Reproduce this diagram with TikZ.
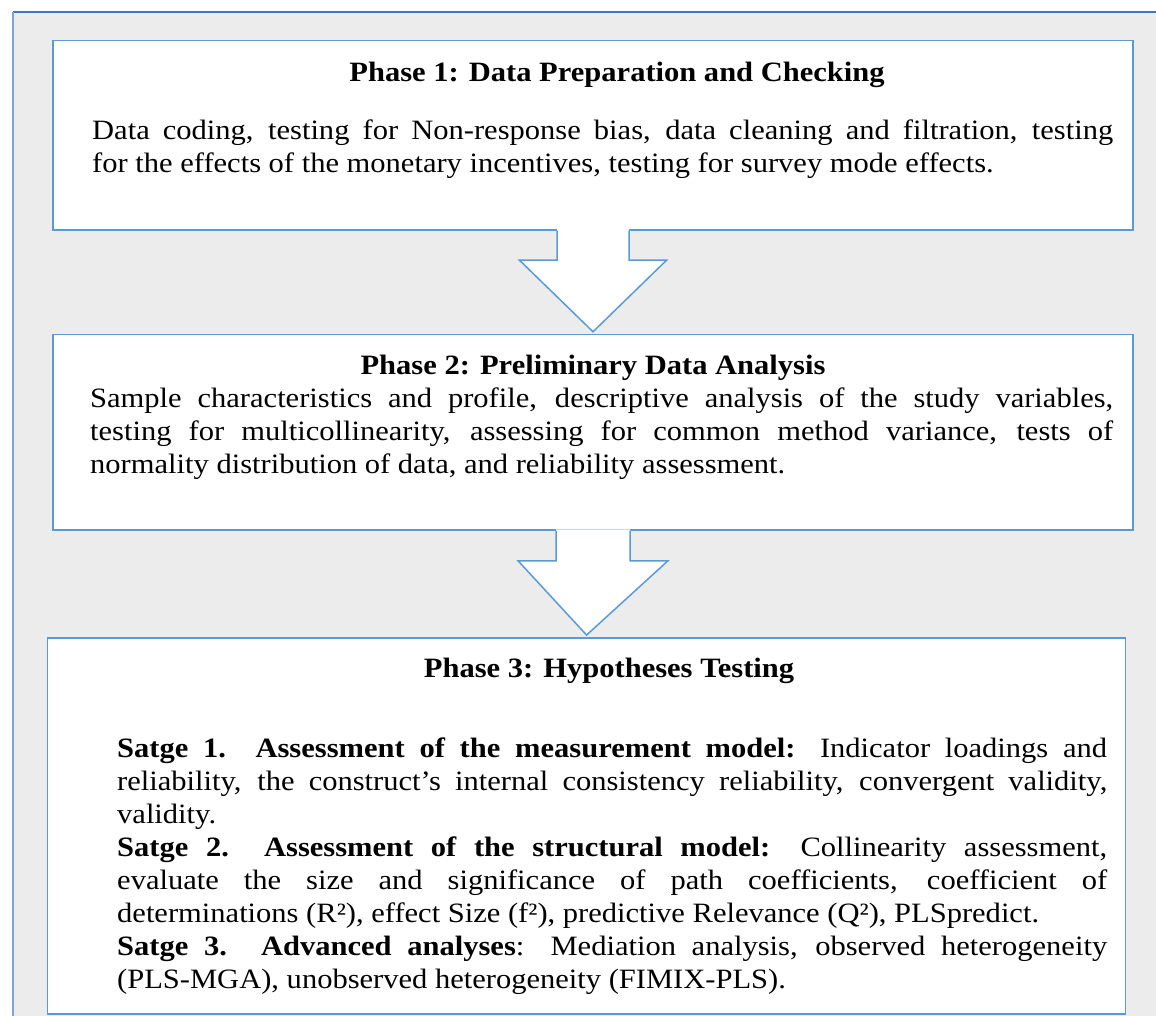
\documentclass[tikz,border=0pt]{standalone}
\usepackage{fontspec}
\setmainfont{Liberation Serif}[FakeStretch=1.09]
\usetikzlibrary{calc}

\definecolor{panelgray}{HTML}{ECECEC}
\definecolor{boxblue}{HTML}{5B9BD5}
\definecolor{frameblue}{HTML}{4472C4}
\definecolor{frameside}{HTML}{7FA3D9}

\tikzset{
  phasebox/.style={rectangle, draw=boxblue, fill=white, line width=1.5pt, inner sep=0pt},
  heading/.style={anchor=base, inner sep=0pt, font=\fontsize{28}{33}\selectfont\bfseries},
  bodytext/.style={anchor=base west, inner sep=0pt, align=justify, font=\fontsize{28}{33}\selectfont},
  arrowline/.style={draw=boxblue, line width=1.5pt, line join=miter},
}

% Hollow block arrow from the bottom of one box towards the top of the next.
% #1 upper node, #2 lower node, #3 half shaft width, #4 half head width, #5 shaft length
\newcommand\phasearrow[5]{%
  \fill[white] ($(#1.south)+(-#3,-1.5)$) -- ($(#1.south)+(-#3,#5)$) -- ($(#1.south)+(-#4,#5)$)
    -- ($(#2.north)+(0,-2)$) -- ($(#1.south)+(#4,#5)$) -- ($(#1.south)+(#3,#5)$)
    -- ($(#1.south)+(#3,-1.5)$) -- cycle;
  \draw[arrowline] ($(#1.south)+(-#3,0)$) -- ($(#1.south)+(-#3,#5)$) -- ($(#1.south)+(-#4,#5)$)
    -- ($(#2.north)+(0,-2)$) -- ($(#1.south)+(#4,#5)$) -- ($(#1.south)+(#3,#5)$)
    -- ($(#1.south)+(#3,0)$);
}

\begin{document}
\begin{tikzpicture}[x=1pt,y=-1pt]
\useasboundingbox (0,0) rectangle (1156,1016);

% grey panel with its frame
\fill[panelgray] (13,12) rectangle (1156,1016);
\draw[frameblue, line width=1.5pt] (13,12) -- (1156,12);
\draw[frameside, line width=1.5pt] (13,12) -- (13,1016);

% the three phase boxes
\node[phasebox, minimum width=1080pt, minimum height=189.5pt] (b1) at (593,135.25) {};
\node[phasebox, minimum width=1080pt, minimum height=195.5pt] (b2) at (593,432.25) {};
\node[phasebox, minimum width=1078pt, minimum height=376pt] (b3) at (586.6,825.8) {};

% arrows between phases
\phasearrow{b1}{b2}{36}{73.5}{29.5}
\phasearrow{b2}{b3}{37}{75}{30}

% Phase 1
\node[heading] (h1) at (617,82) {Phase 1: Data Preparation and Checking};
\node[bodytext, text width=1021pt] (d1) at (92,140) {Data coding, testing for Non-response bias, data cleaning and filtration, testing\linebreak
for the effects of the monetary incentives, testing for survey mode effects.};

% Phase 2
\node[heading] (h2) at (593,374) {Phase 2: Preliminary Data Analysis};
\node[bodytext, text width=1023pt] (d2) at (90,407) {Sample characteristics and profile, descriptive analysis of the study variables,\linebreak
testing for multicollinearity, assessing for common method variance, tests of\linebreak
normality distribution of data, and reliability assessment.};

% Phase 3
\node[heading] (h3) at (609,677) {Phase 3: Hypotheses Testing};
\node[bodytext, text width=990pt] (d3) at (117,757) {\textbf{Satge 1.\ \ Assessment of the measurement model:} Indicator loadings and\linebreak
reliability, the construct’s internal consistency reliability, convergent validity,\linebreak
validity.\par
\textbf{Satge 2.\ \ Assessment of the structural model:} Collinearity assessment,\linebreak
evaluate the size and significance of path coefficients, coefficient of\linebreak
determinations (R²), effect Size (f²), predictive Relevance (Q²), PLSpredict.\par
\textbf{Satge 3. Advanced analyses}: Mediation analysis, observed heterogeneity\linebreak
(PLS-MGA), unobserved heterogeneity (FIMIX-PLS).};
\end{tikzpicture}
\end{document}
